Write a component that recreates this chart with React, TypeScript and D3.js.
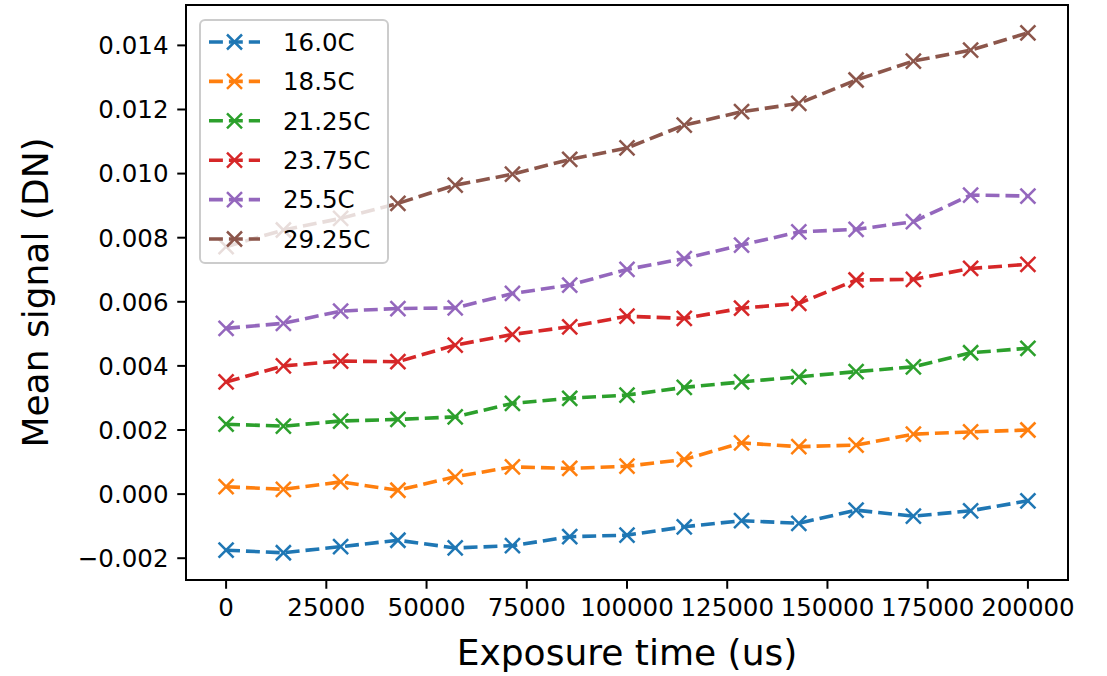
import { useEffect } from 'react'
import * as d3 from 'd3'

const EXPOSURE = [0, 14286, 28571, 42857, 57143, 71429, 85714, 100000, 114286, 128571, 142857, 157143, 171429, 185714, 200000]

const T16_0 = [-0.00175, -0.00183, -0.00164, -0.00144, -0.00168, -0.00161, -0.00133, -0.00128, -0.00102, -0.00083, -0.00091, -0.0005, -0.00069, -0.00052, -0.00021]
const T18_5 = [0.00023, 0.00015, 0.00038, 0.00012, 0.00054, 0.00085, 0.0008, 0.00087, 0.00108, 0.0016, 0.00148, 0.00153, 0.00187, 0.00194, 0.002]
const T21_25 = [0.00218, 0.00212, 0.00228, 0.00233, 0.00241, 0.00283, 0.00299, 0.00309, 0.00333, 0.0035, 0.00366, 0.00382, 0.00397, 0.00441, 0.00455]
const T23_75 = [0.0035, 0.004, 0.00415, 0.00413, 0.00465, 0.00498, 0.00522, 0.00555, 0.00548, 0.0058, 0.00595, 0.00668, 0.0067, 0.00704, 0.00717]
const T25_5 = [0.00517, 0.00533, 0.00571, 0.00579, 0.00581, 0.00626, 0.00652, 0.00701, 0.00735, 0.00777, 0.00818, 0.00826, 0.0085, 0.00933, 0.0093]
const T29_25 = [0.00772, 0.00824, 0.0086, 0.00907, 0.00964, 0.00998, 0.01044, 0.0108, 0.01151, 0.01193, 0.01219, 0.01292, 0.01351, 0.01385, 0.01439]

const SERIES = [
  { label: '16.0C', values: T16_0 },
  { label: '18.5C', values: T18_5 },
  { label: '21.25C', values: T21_25 },
  { label: '23.75C', values: T23_75 },
  { label: '25.5C', values: T25_5 },
  { label: '29.25C', values: T29_25 },
]

const COLORS = ['#1f77b4', '#ff7f0e', '#2ca02c', '#d62728', '#9467bd', '#8c564b']

const X_TICKS = [0, 25000, 50000, 75000, 100000, 125000, 150000, 175000, 200000]
const Y_TICKS = [-0.002, 0, 0.002, 0.004, 0.006, 0.008, 0.010, 0.012, 0.014]

const W = 1107
const H = 676
const FONT = 'DejaVu Sans, sans-serif'

// plot frame in px
const left = 186
const right = 1068
const top = 5
const bottom = 580

function Cross({ x, y, color, s = 7.5 }: { x: number; y: number; color: string; s?: number }) {
  return (
    <g stroke={color} strokeWidth={2.5}>
      <line x1={x - s} y1={y - s} x2={x + s} y2={y + s} />
      <line x1={x - s} y1={y + s} x2={x + s} y2={y - s} />
    </g>
  )
}

export default function App() {
  useEffect(() => {
    document.body.style.margin = '0'
  }, [])

  const x = d3.scaleLinear().domain([-10000, 210000]).range([left, right])
  const y = d3.scaleLinear().domain([-0.00268, 0.01526]).range([bottom, top])

  const line = d3.line<number>()
    .x((_, i) => x(EXPOSURE[i]))
    .y(d => y(d))

  const fmtY = d3.format('.3f')
  const tickLen = 8.75
  const pad = 8.75
  const fs = 24.5

  // legend layout
  const lgX = 200
  const lgY = 20
  const lgW = 188
  const lgH = 243
  const rowH = 39.4

  return (
    <svg width={W} height={H} style={{ display: 'block', background: '#fff' }} fontFamily={FONT}>
      {/* series */}
      {SERIES.map((s, si) => (
        <g key={s.label}>
          <path
            d={line(s.values) || ''}
            fill="none"
            stroke={COLORS[si]}
            strokeWidth={3.6}
            strokeDasharray="13.9,6"
          />
          {s.values.map((v, i) => (
            <Cross key={i} x={x(EXPOSURE[i])} y={y(v)} color={COLORS[si]} />
          ))}
        </g>
      ))}

      {/* frame */}
      <rect x={left} y={top} width={right - left} height={bottom - top} fill="none" stroke="#000" strokeWidth={2} />

      {/* x axis */}
      {X_TICKS.map(t => (
        <g key={t}>
          <line x1={x(t)} x2={x(t)} y1={bottom} y2={bottom + tickLen} stroke="#000" strokeWidth={2} />
          <text x={x(t)} y={bottom + tickLen + pad + fs * 0.76} textAnchor="middle" fontSize={fs} fill="#000">
            {t}
          </text>
        </g>
      ))}

      {/* y axis */}
      {Y_TICKS.map(t => (
        <g key={t}>
          <line x1={left - tickLen} x2={left} y1={y(t)} y2={y(t)} stroke="#000" strokeWidth={2} />
          <text x={left - tickLen - pad} y={y(t)} dy="0.36em" textAnchor="end" fontSize={fs} fill="#000">
            {fmtY(t)}
          </text>
        </g>
      ))}

      {/* axis labels */}
      <text x={(left + right) / 2} y={665} textAnchor="middle" fontSize={36} fill="#000">
        Exposure time (us)
      </text>
      <text
        transform={`translate(48, ${(top + bottom) / 2}) rotate(-90)`}
        textAnchor="middle"
        fontSize={36}
        fill="#000"
      >
        Mean signal (DN)
      </text>

      {/* legend */}
      <rect x={lgX} y={lgY} width={lgW} height={lgH} rx={5} fill="#fff" fillOpacity={0.8} stroke="#cccccc" strokeWidth={2} />
      {SERIES.map((s, si) => {
        const cy = lgY + 22 + si * rowH
        return (
          <g key={s.label}>
            <line x1={209} x2={260} y1={cy} y2={cy} stroke={COLORS[si]} strokeWidth={3.6} strokeDasharray="13.9,6" />
            <Cross x={234.5} y={cy} color={COLORS[si]} />
            <text x={283} y={cy} dy="0.36em" fontSize={fs} fill="#000">
              {s.label}
            </text>
          </g>
        )
      })}
    </svg>
  )
}
